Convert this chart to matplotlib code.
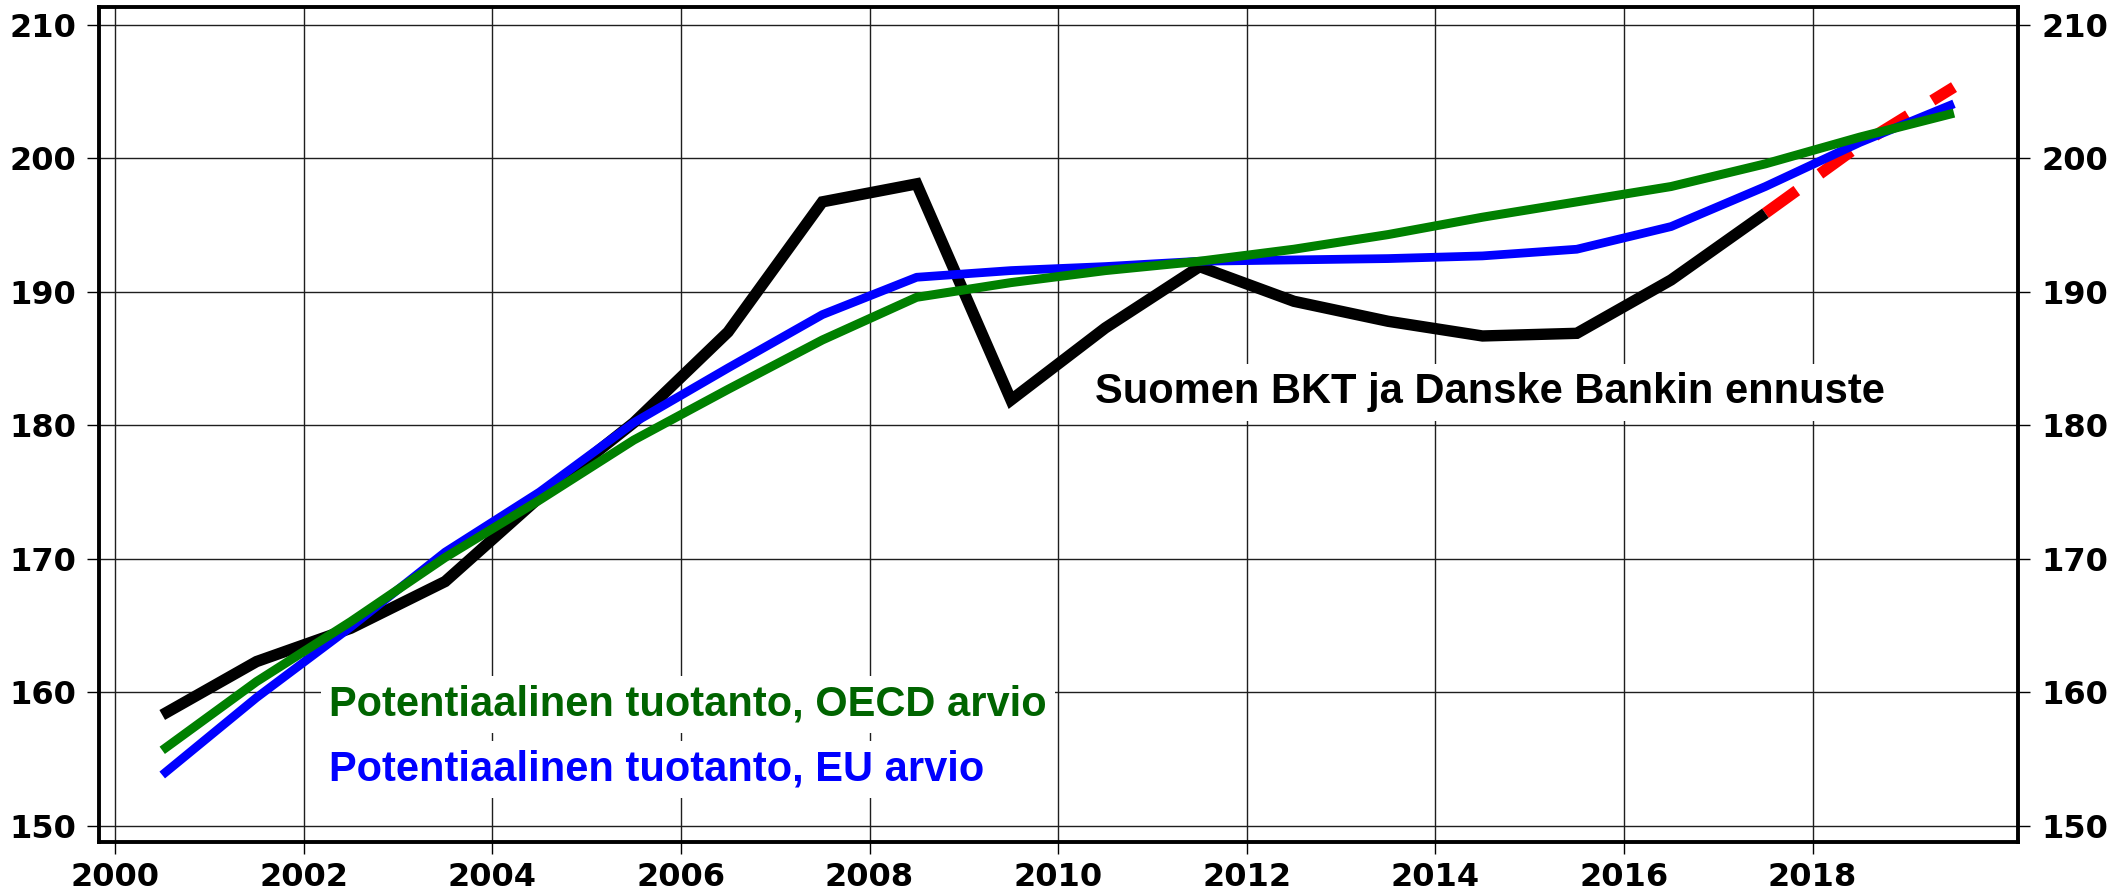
import matplotlib
matplotlib.use('Agg')
import matplotlib.pyplot as plt
import numpy as np

# annual values, plotted at mid-year
years_gdp = [2000, 2001, 2002, 2003, 2004, 2005, 2006, 2007, 2008, 2009,
             2010, 2011, 2012, 2013, 2014, 2015, 2016, 2017]
gdp = [158.3, 162.3, 164.8, 168.3, 174.6, 180.2, 187.0, 196.75, 198.1, 181.9,
       187.3, 191.9, 189.3, 187.8, 186.7, 186.9, 190.9, 195.9]

years_fc = [2017, 2018, 2019]
forecast = [195.9, 201.0, 205.35]

years_pot = list(range(2000, 2020))
oecd = [155.65, 160.8, 165.3, 170.1, 174.4, 178.9, 182.7, 186.4, 189.6, 190.7,
        191.6, 192.3, 193.2, 194.3, 195.6, 196.75, 197.9, 199.6, 201.6, 203.4]
eu = [153.8, 159.6, 164.9, 170.5, 175.0, 180.2, 184.3, 188.3, 191.1, 191.6,
      191.9, 192.3, 192.4, 192.5, 192.7, 193.2, 194.9, 197.9, 201.2, 204.1]

xticks = list(range(2000, 2019, 2))
yticks = [150, 160, 170, 180, 190, 200, 210]

label_gdp = 'Suomen BKT ja Danske Bankin ennuste'
label_oecd = 'Potentiaalinen tuotanto, OECD arvio'
label_eu = 'Potentiaalinen tuotanto, EU arvio'

plt.rcParams['font.family'] = ['DejaVu Sans']
plt.rcParams['font.weight'] = 'bold'


def mid(years):
    return np.array(years) + 0.5


fig = plt.figure(figsize=(21.21, 8.91), dpi=100)
ax = fig.add_axes([0.0467, 0.0550, 0.9048, 0.9371])

ax.plot(mid(years_fc), forecast, color='#ff0000', lw=8.2,
        linestyle=(0, (3.4, 2.5)), dash_capstyle='butt', zorder=4)
ax.plot(mid(years_gdp), gdp, color='black', lw=8.2,
        solid_capstyle='butt', solid_joinstyle='miter', zorder=5)
ax.plot(mid(years_pot), eu, color='#0000ff', lw=6.3,
        solid_capstyle='butt', zorder=6)
ax.plot(mid(years_pot), oecd, color='#008000', lw=6.5,
        solid_capstyle='butt', zorder=7)

ax.set_xlim(1999.83, 2020.18)
ax.set_ylim(148.78, 211.35)
ax.set_xticks(xticks)
ax.set_yticks(yticks)

ax.set_axisbelow(True)
ax.grid(True, color='#1e1e1e', lw=1.0)

for s in ax.spines.values():
    s.set_linewidth(2.8)
    s.set_color('black')

ax.tick_params(axis='both', direction='out', length=8.6, width=1.0,
               color='black', labelsize=23)
ax.tick_params(axis='y', left=True, right=True, labelleft=True,
               labelright=True, pad=8)
ax.tick_params(axis='x', pad=6)

box = dict(boxstyle='square,pad=0.2', facecolor='white', edgecolor='none')
txt = dict(fontsize=30, fontweight='bold', family=['Liberation Sans', 'DejaVu Sans'],
           va='baseline', ha='left', bbox=box, zorder=3)
ax.text(2010.39, 181.64, label_gdp, color='black', **txt)
ax.text(2002.27, 158.27, label_oecd, color='#006400', **txt)
ax.text(2002.27, 153.40, label_eu, color='#0000ff', **txt)

fig.savefig('out.png', dpi=100)
